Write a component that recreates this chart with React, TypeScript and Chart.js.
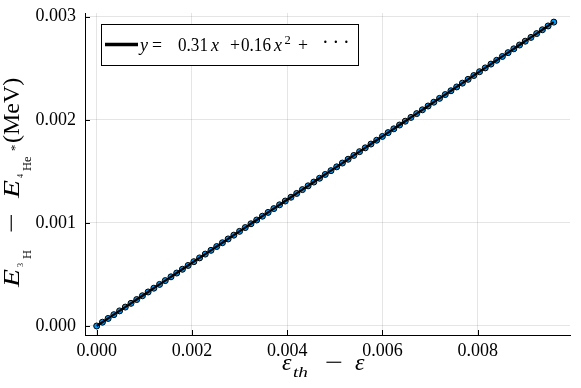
import React, { useEffect, useRef } from "react";
import { Chart, registerables } from "chart.js";

Chart.register(...registerables);

// epsilon_th - epsilon
const xValues = [
  0, 0.00012, 0.00024, 0.00036, 0.00048, 0.0006, 0.00072, 0.00084, 0.00096, 0.00108,
  0.0012, 0.00132, 0.00144, 0.00156, 0.00168, 0.0018, 0.00192, 0.00204, 0.00216, 0.00228,
  0.0024, 0.00252, 0.00264, 0.00276, 0.00288, 0.003, 0.00312, 0.00324, 0.00336, 0.00348,
  0.0036, 0.00372, 0.00384, 0.00396, 0.00408, 0.0042, 0.00432, 0.00444, 0.00456, 0.00468,
  0.0048, 0.00492, 0.00504, 0.00516, 0.00528, 0.0054, 0.00552, 0.00564, 0.00576, 0.00588,
  0.006, 0.00612, 0.00624, 0.00636, 0.00648, 0.0066, 0.00672, 0.00684, 0.00696, 0.00708,
  0.0072, 0.00732, 0.00744, 0.00756, 0.00768, 0.0078, 0.00792, 0.00804, 0.00816, 0.00828,
  0.0084, 0.00852, 0.00864, 0.00876, 0.00888, 0.009, 0.00912, 0.00924, 0.00936, 0.00948,
  0.0096,
];

// E(3H) - E(4He*) in MeV
const yValues = [
  0, 0.0000367, 0.0000733, 0.00011, 0.0001467, 0.0001834, 0.00022, 0.0002567, 0.0002934, 0.0003301,
  0.0003668, 0.0004035, 0.0004403, 0.000477, 0.0005137, 0.0005504, 0.0005872, 0.0006239, 0.0006606, 0.0006974,
  0.0007341, 0.0007709, 0.0008076, 0.0008444, 0.0008812, 0.0009179, 0.0009547, 0.0009915, 0.0010283, 0.0010651,
  0.0011019, 0.0011387, 0.0011755, 0.0012123, 0.0012491, 0.0012859, 0.0013228, 0.0013596, 0.0013964, 0.0014332,
  0.0014701, 0.0015069, 0.0015438, 0.0015806, 0.0016175, 0.0016544, 0.0016912, 0.0017281, 0.001765, 0.0018019,
  0.0018388, 0.0018757, 0.0019126, 0.0019495, 0.0019864, 0.0020233, 0.0020602, 0.0020971, 0.002134, 0.002171,
  0.0022079, 0.0022448, 0.0022818, 0.0023187, 0.0023557, 0.0023926, 0.0024296, 0.0024666, 0.0025035, 0.0025405,
  0.0025775, 0.0026145, 0.0026515, 0.0026885, 0.0027255, 0.0027625, 0.0027995, 0.0028365, 0.0028735, 0.0029105,
  0.0029476,
];

const xTicks = [0, 0.002, 0.004, 0.006, 0.008];
const yTicks = [0, 0.001, 0.002, 0.003];

const FONT = '"Liberation Serif", "DejaVu Serif", serif';

type Seg = { t: string; x: number; dy?: number; size: number; it?: boolean; w?: number };

function drawSegs(ctx: CanvasRenderingContext2D, segs: Seg[], ox: number, oy: number, rot = 0) {
  ctx.save();
  ctx.translate(ox, oy);
  if (rot) ctx.rotate(rot);
  ctx.fillStyle = "#000";
  ctx.textBaseline = "alphabetic";
  ctx.textAlign = "left";
  for (const s of segs) {
    ctx.font = `${s.it ? "italic " : ""}${s.size}px ${FONT}`;
    const m = ctx.measureText(s.t).width;
    ctx.save();
    ctx.translate(s.x, s.dy || 0);
    if (s.w && m > 0) ctx.scale(s.w / m, 1);
    ctx.fillText(s.t, 0, 0);
    ctx.restore();
  }
  ctx.restore();
}

const yTitle: Seg[] = [
  { t: "E", x: 0, size: 24, it: true, w: 18 },
  { t: "3", x: 20, dy: 4, size: 8 },
  { t: "H", x: 28, dy: 12, size: 12.5 },
  { t: "\u2212", x: 54, size: 24, w: 20 },
  { t: "E", x: 89, size: 24, it: true, w: 18 },
  { t: "4", x: 109, dy: 4, size: 8 },
  { t: "He", x: 116, dy: 12, size: 12.5 },
  { t: "*", x: 136, dy: 0, size: 12.5 },
  { t: "(MeV)", x: 144, size: 24 },
];

const xTitle: Seg[] = [
  { t: "\u03b5", x: 282, size: 24, it: true },
  { t: "th", x: 293, dy: 7, size: 15, it: true, w: 15 },
  { t: "\u2212", x: 325, size: 24, w: 18 },
  { t: "\u03b5", x: 355, size: 24, it: true },
];

const legendText: Seg[] = [
  { t: "y", x: 140, size: 18, it: true },
  { t: "=", x: 152, size: 18, w: 10 },
  { t: "0.31", x: 178, size: 18, w: 30 },
  { t: "x", x: 211, size: 18, it: true },
  { t: "+", x: 230, size: 18, w: 10 },
  { t: "0.16", x: 241, size: 18, w: 30 },
  { t: "x", x: 274, size: 18, it: true },
  { t: "2", x: 284.5, dy: -7.5, size: 12.5 },
  { t: "+", x: 298, size: 18, w: 10 },
  { t: "\u00b7", x: 322, dy: -2, size: 20 },
  { t: "\u00b7", x: 332.5, dy: -2, size: 20 },
  { t: "\u00b7", x: 343, dy: -2, size: 20 },
];

const decorations = {
  id: "decorations",
  afterDraw(chart: any) {
    const ctx: CanvasRenderingContext2D = chart.ctx;
    const xs = chart.scales.x;
    const ys = chart.scales.y;
    const area = chart.chartArea;
    ctx.save();
    // inward tick marks
    ctx.strokeStyle = "#000";
    ctx.lineWidth = 1;
    ctx.beginPath();
    for (const v of xTicks) {
      const px = Math.round(xs.getPixelForValue(v)) + 0.5;
      ctx.moveTo(px, area.bottom);
      ctx.lineTo(px, area.bottom - 5);
    }
    for (const v of yTicks) {
      const py = Math.round(ys.getPixelForValue(v)) + 0.5;
      ctx.moveTo(area.left, py);
      ctx.lineTo(area.left + 5, py);
    }
    ctx.stroke();

    // legend
    ctx.fillStyle = "#fff";
    ctx.fillRect(101.5, 24.5, 257, 41);
    ctx.strokeStyle = "#000";
    ctx.lineWidth = 1;
    ctx.strokeRect(101.5, 24.5, 257, 41);
    ctx.beginPath();
    ctx.lineWidth = 3.5;
    ctx.moveTo(105, 44.5);
    ctx.lineTo(138, 44.5);
    ctx.stroke();
    ctx.restore();
    drawSegs(ctx, legendText, 0, 51);

    // axis titles
    drawSegs(ctx, yTitle, 19, 287, -Math.PI / 2);
    drawSegs(ctx, xTitle, 0, 370);
  },
};

export default function App() {
  const ref = useRef<HTMLCanvasElement | null>(null);
  useEffect(() => {
    if (!ref.current) return;
    const points = xValues.map((x, i) => ({ x, y: yValues[i] }));
    const chart = new Chart(ref.current, {
      type: "scatter",
      data: {
        datasets: [
          {
            label: "fit",
            data: points,
            showLine: true,
            borderColor: "#000",
            borderWidth: 2.2,
            pointRadius: 0,
            pointHoverRadius: 0,
            fill: false,
          },
          {
            label: "data",
            data: points,
            pointRadius: 3,
            pointBackgroundColor: "#009AFA",
            pointBorderColor: "#000",
            pointBorderWidth: 1,
          },
        ],
      } as any,
      options: {
        animation: false,
        responsive: false,
        devicePixelRatio: 1,
        layout: { padding: { top: 13, right: 11, left: 0, bottom: 0 } },
        plugins: { legend: { display: false }, tooltip: { enabled: false } },
        scales: {
          x: {
            type: "linear",
            min: -0.000246,
            max: 0.00994,
            afterBuildTicks: (s: any) => {
              s.ticks = xTicks.map((v) => ({ value: v }));
            },
            afterFit: (s: any) => {
              s.height = 53;
              s.paddingLeft = 0;
              s.paddingRight = 0;
            },
            grid: { color: "rgba(0,0,0,0.1)", lineWidth: 1, drawTicks: false },
            border: { display: true, color: "#000", width: 1 },
            ticks: {
              autoSkip: false,
              maxRotation: 0,
              padding: 5,
              color: "#000",
              font: { family: FONT, size: 18 },
              callback: (v: any) => Number(v).toFixed(3),
            },
          },
          y: {
            type: "linear",
            min: -0.0000873,
            max: 0.003036,
            afterBuildTicks: (s: any) => {
              s.ticks = yTicks.map((v) => ({ value: v }));
            },
            afterFit: (s: any) => {
              s.width = 85;
              s.paddingTop = 0;
              s.paddingBottom = 0;
            },
            grid: { color: "rgba(0,0,0,0.1)", lineWidth: 1, drawTicks: false },
            border: { display: true, color: "#000", width: 1 },
            ticks: {
              autoSkip: false,
              padding: 9,
              color: "#000",
              font: { family: FONT, size: 18 },
              callback: (v: any) => Number(v).toFixed(3),
            },
          },
        },
      } as any,
      plugins: [decorations],
    });
    return () => chart.destroy();
  }, []);
  return (
    <div style={{ position: "absolute", left: 0, top: 0, width: 581, height: 388, background: "#fff" }}>
      <canvas ref={ref} width={581} height={388} style={{ display: "block" }} />
    </div>
  );
}
